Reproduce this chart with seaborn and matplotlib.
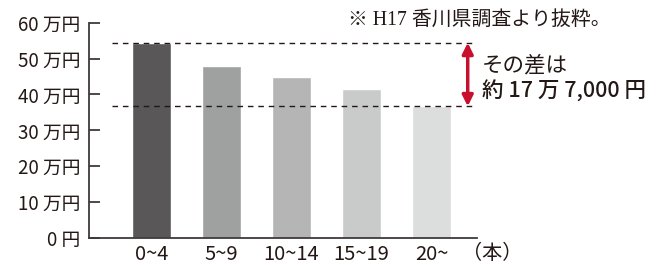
import matplotlib
matplotlib.use("Agg")
from matplotlib import pyplot as plt
import seaborn as sns
import pandas as pd

# データ（万円）
categories = ["0~4", "5~9", "10~14", "15~19", "20~"]
values = [54.4, 47.9, 44.8, 41.4, 36.7]
bar_colors = ["#595757", "#9fa0a0", "#b5b5b6", "#c9caca", "#dcdddd"]
yticks = [0, 10, 20, 30, 40, 50, 60]
ytick_labels = ["0 円", "10 万円", "20 万円", "30 万円", "40 万円", "50 万円", "60 万円"]

sns.set_theme(style="white")
plt.rcParams["font.family"] = ["Noto Sans CJK JP", "DejaVu Sans"]

df = pd.DataFrame({"cat": categories, "val": values})

fig = plt.figure(figsize=(6.63, 2.65), dpi=100)
ax = fig.add_axes([0.1342, 0.1019, 0.7195 - 0.1342, 0.8124])

sns.barplot(data=df, x="cat", y="val", hue="cat", palette=bar_colors,
            legend=False, width=0.557, saturation=1, ax=ax)

ax.set_ylim(0, 60)
ax.set_xlim(-0.893, 4.65)
ax.set_yticks(yticks)
ax.set_yticklabels(ytick_labels)
ax.set_xlabel("")
ax.set_ylabel("")

for s in ["top", "right"]:
    ax.spines[s].set_visible(False)
for s in ["left", "bottom"]:
    ax.spines[s].set_color("#3e3a39")
    ax.spines[s].set_linewidth(1.3)

ax.tick_params(axis="y", direction="in", length=8, width=1.3, color="#3e3a39",
               labelsize=13.5, pad=6, labelcolor="#231815", left=True)
ax.tick_params(axis="x", length=0, labelsize=14.5, pad=4, labelcolor="#231815")

# 破線（最大・最小）
top_v = values[0]
low_v = values[-1]
for v in (top_v, low_v):
    ax.axhline(v, xmin=0.059, xmax=0.986, color="#231815", lw=1.0,
               ls=(0, (4, 3.5)), clip_on=False, zorder=3)

# 赤い矢印
ax.annotate("", xy=(0.976, low_v), xytext=(0.976, top_v),
            xycoords=ax.get_yaxis_transform(),
            arrowprops=dict(arrowstyle="<|-|>", color="#c8102e", lw=2.5,
                            mutation_scale=16, shrinkA=0, shrinkB=0))

fig.text(0.7266, 0.752, "その差は", fontsize=15.5, va="center", ha="left",
         color="#231815")
fig.text(0.7266, 0.655, "約 17 万 7,000 円", fontsize=15.5, va="center",
         ha="left", color="#231815", fontweight="medium")
fig.text(0.525, 0.925, "※ H17 香川県調査より抜粋。", fontsize=14.3, va="center",
         ha="left", color="#231815",
         family=["Liberation Serif", "Noto Sans CJK JP"])
fig.text(0.743, 0.045, "（本）", fontsize=14.5, va="center", ha="center",
         color="#231815")

fig.savefig("out.png", dpi=100)
